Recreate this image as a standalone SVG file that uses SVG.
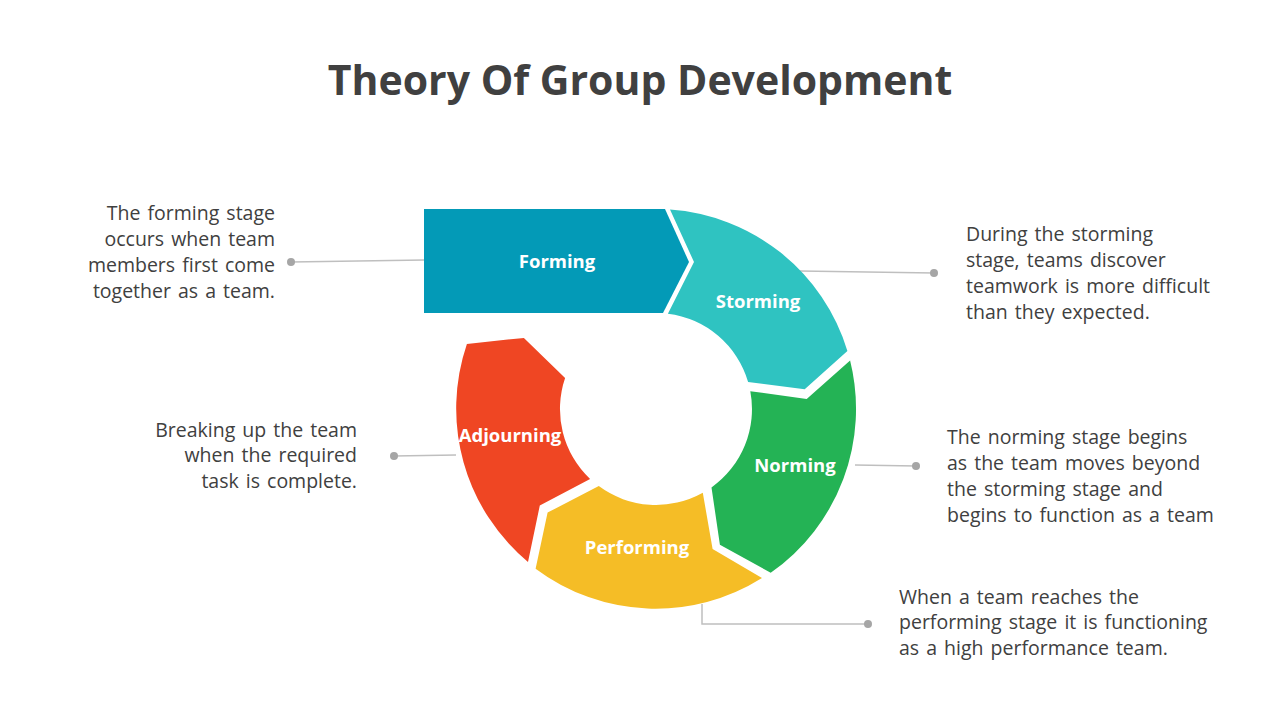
<svg xmlns="http://www.w3.org/2000/svg" width="1280" height="720" viewBox="0 0 1280 720">
<style>
.title{font-family:"Open Sans","Noto Sans",sans-serif;font-weight:700;font-size:41px;fill:#404040}
.lbl{font-family:"Open Sans","Noto Sans",sans-serif;font-weight:700;font-size:18.5px;fill:#ffffff}
.body{font-family:"Open Sans","Noto Sans",sans-serif;font-size:19.5px;word-spacing:2px;fill:#404040}
.ln{stroke:#BFBFBF;stroke-width:1.5;fill:none}
.dot{fill:#A6A6A6}
</style>
<rect width="1280" height="720" fill="#ffffff"/>
<text class="title" x="640" y="95" text-anchor="middle">Theory Of Group Development</text>
<g id="connectors">
<path class="ln" d="M291,262 L424,260"/><circle class="dot" cx="291" cy="262" r="4"/>
<path class="ln" d="M800,271 L934,273"/><circle class="dot" cx="934" cy="273" r="4"/>
<path class="ln" d="M855,465 L916,466"/><circle class="dot" cx="916" cy="466" r="4"/>
<path class="ln" d="M394,456 L456,455"/><circle class="dot" cx="394" cy="456" r="4"/>
<path class="ln" d="M702,604 L702,624 L868,624"/><circle class="dot" cx="868" cy="624" r="4"/>
</g>
<g id="forming">
<path d="M424,209 L665,209 L689,262 L663,313 L424,313 Z" fill="#039AB7"/>
<text class="lbl" x="557" y="268" text-anchor="middle">Forming</text>
</g>
<g id="storming">
<path d="M670,209.5 A200,200 0 0 1 847.4,350.9 L804.7,389.2 L748.1,381.9 A96,96 0 0 0 667.9,313.7 L694,262 Z" fill="#2FC3C1"/>
<text class="lbl" x="758" y="308" text-anchor="middle">Storming</text>
</g>
<g id="norming">
<path d="M850.1,360.6 A200,200 0 0 1 770.7,572.8 L719.9,544.7 L711.5,487.4 A96,96 0 0 0 750.3,391.2 L806.7,399 Z" fill="#24B355"/>
<text class="lbl" x="795" y="472" text-anchor="middle">Norming</text>
</g>
<g id="performing">
<path d="M762,578 A200,200 0 0 1 535.6,568.7 L547.6,512.6 L598.8,486.1 A96,96 0 0 0 702.8,492.8 L712.6,549 Z" fill="#F5BD26"/>
<text class="lbl" x="637" y="554" text-anchor="middle">Performing</text>
</g>
<g id="adjourning">
<path d="M528,562 A200,200 0 0 1 466.9,343.9 L523.9,337.9 L565.1,378.1 A96,96 0 0 0 590.1,478.9 L539.8,505.5 Z" fill="#EF4623"/>
<text class="lbl" x="510" y="442" text-anchor="middle">Adjourning</text>
</g>
<g id="text-forming">
<text class="body" text-anchor="end"><tspan x="275" y="220">The forming stage</tspan><tspan x="275" y="246">occurs when team</tspan><tspan x="275" y="272">members first come</tspan><tspan x="275" y="298">together as a team.</tspan></text>
</g>
<g id="text-storming">
<text class="body"><tspan x="966" y="241">During the storming</tspan><tspan x="966" y="267">stage, teams discover</tspan><tspan x="966" y="293">teamwork is more difficult</tspan><tspan x="966" y="319">than they expected.</tspan></text>
</g>
<g id="text-adjourning">
<text class="body" text-anchor="end"><tspan x="357" y="437">Breaking up the team</tspan><tspan x="357" y="462">when the required</tspan><tspan x="357" y="488">task is complete.</tspan></text>
</g>
<g id="text-norming">
<text class="body"><tspan x="947" y="444">The norming stage begins</tspan><tspan x="947" y="470">as the team moves beyond</tspan><tspan x="947" y="496">the storming stage and</tspan><tspan x="947" y="522">begins to function as a team</tspan></text>
</g>
<g id="text-performing">
<text class="body"><tspan x="899" y="604">When a team reaches the</tspan><tspan x="899" y="629">performing stage it is functioning</tspan><tspan x="899" y="655">as a high performance team.</tspan></text>
</g>
</svg>
